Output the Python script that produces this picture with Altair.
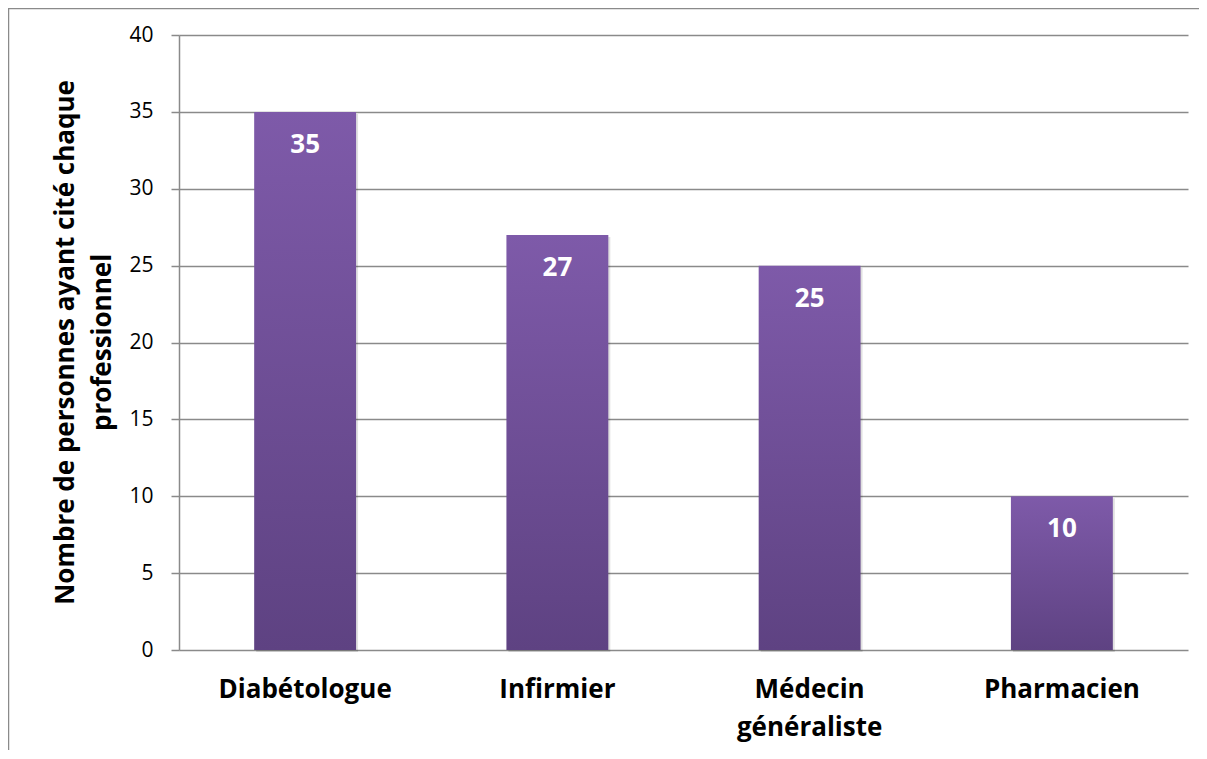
import altair as alt
import pandas as pd

categories = ["Diabétologue", "Infirmier", "Médecin généraliste", "Pharmacien"]
counts = [35, 27, 25, 10]
y_ticks = [0, 5, 10, 15, 20, 25, 30, 35, 40]
y_title = ["Nombre de personnes ayant cité chaque", "professionnel"]

df = pd.DataFrame({"cat": categories, "n": counts})

FONT = "Open Sans"
GRAY = "#8a8a8a"

grad = alt.LinearGradient(
    gradient="linear",
    stops=[alt.GradientStop(color="#7E5AA9", offset=0),
           alt.GradientStop(color="#5E4282", offset=1)],
    x1=0, x2=0, y1=0, y2=1,
)

x = alt.X(
    "cat:N", sort=categories,
    scale=alt.Scale(paddingInner=0.596, paddingOuter=0.298),
    axis=alt.Axis(title=None, labelExpr="split(datum.label, ' ')", labelAngle=0,
                  labelFont=FONT, labelFontSize=26, labelFontWeight="bold",
                  labelColor="black", labelPadding=26, labelLineHeight=38,
                  labelBaseline="top", ticks=False, domain=False, grid=False),
)
y = alt.Y(
    "n:Q", scale=alt.Scale(domain=[0, 40]),
    axis=alt.Axis(values=y_ticks, title=y_title, titleFont=FONT, titleFontSize=26,
                  titleFontWeight="bold", titleColor="black", titleLineHeight=37,
                  titleX=-114, titleY=307, titleAngle=-90, titleBaseline="middle",
                  titleAlign="center",
                  labelFont=FONT, labelFontSize=21, labelColor="black", labelPadding=18,
                  tickSize=8, tickColor=GRAY, tickWidth=1.5,
                  domainColor=GRAY, domainWidth=1.5,
                  gridColor=GRAY, gridWidth=1.5),
)

base = alt.Chart(df)
shadow = base.mark_bar(color="#000000", opacity=0.12, xOffset=2, yOffset=2).encode(x=x, y=y)
bars = base.mark_bar(color=grad).encode(x=x, y=y)
labels = base.mark_text(color="white", font=FONT, fontSize=26, fontWeight="bold",
                        baseline="middle", dy=33).encode(x=x, y=y, text="n:Q")

frame_data = alt.Data(values=[{"k": 1}])
top_line = alt.Chart(frame_data).mark_rule(color=GRAY, strokeWidth=1.5).encode(
    x=alt.value(-171), x2=alt.value(1100), y=alt.value(-26.5))
left_line = alt.Chart(frame_data).mark_rule(color=GRAY, strokeWidth=1.5).encode(
    x=alt.value(-170.5), y=alt.value(-27), y2=alt.value(800))

chart = alt.layer(shadow, bars, labels, top_line, left_line).properties(
    width=1009, height=615,
    autosize=alt.AutoSizeParams(type="none"),
    padding={"left": 171, "top": 27, "right": 11, "bottom": 100},
).configure_view(stroke=None)

chart.save("out.html", embed_options={"renderer": "svg", "actions": False})
